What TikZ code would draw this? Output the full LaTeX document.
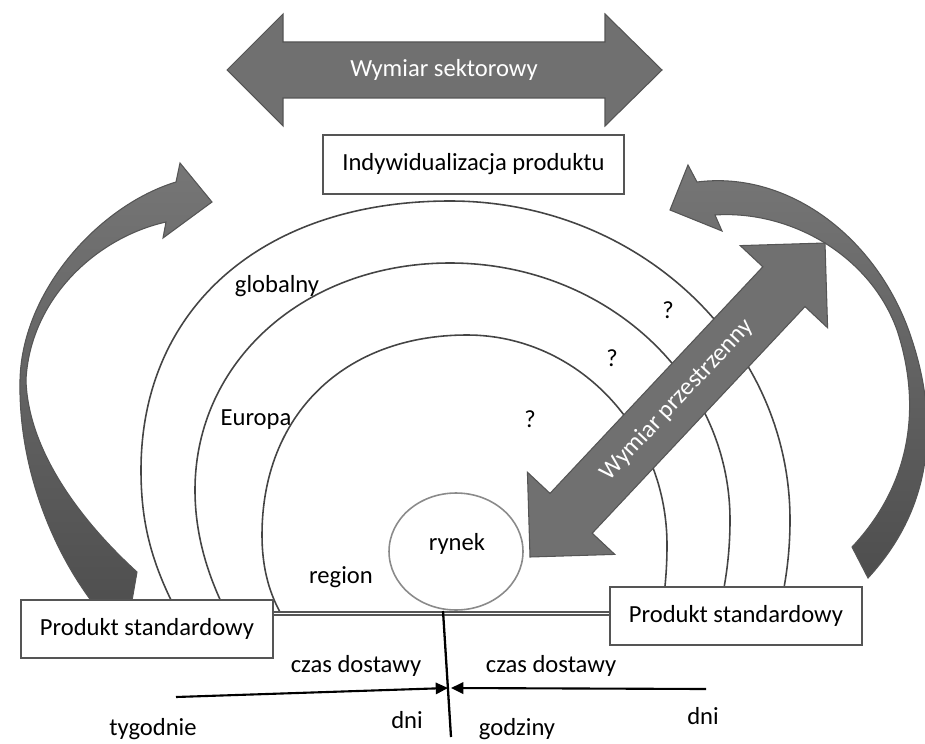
\documentclass[tikz,border=0pt]{standalone}
\usepackage{fontspec}
\setmainfont{Carlito}
\usetikzlibrary{arrows.meta,shapes.geometric}
\definecolor{arrowfill}{HTML}{707070}
\definecolor{arrowedge}{HTML}{555555}
\definecolor{arcline}{HTML}{444444}
\definecolor{boxedge}{HTML}{555555}
\definecolor{ringline}{HTML}{8A8A8A}
\definecolor{ribbonlight}{HTML}{767676}
\definecolor{ribbondark}{HTML}{4E4E4E}

\begin{document}
\begin{tikzpicture}[x=0.02cm, y=-0.02cm,
  every node/.style={font=\fontsize{14}{17}\selectfont},
  zone/.style={draw=arcline, line width=0.9pt},
  block/.style={draw=arrowedge, line width=0.6pt, fill=arrowfill},
  ribbon/.style={draw=arrowedge, line width=0.6pt, top color=ribbonlight, bottom color=ribbondark},
  whitetext/.style={text=white, inner sep=0pt},
  panel/.style={draw=boxedge, line width=0.7pt, fill=white, inner sep=0pt},
  tag/.style={anchor=base, inner sep=0pt},
  timeline/.style={line width=1.2pt, -{Triangle[length=7pt,width=6.5pt]}},
]
\useasboundingbox (0,0) rectangle (925,743);

% market zones: region (inner), Europa (middle), globalny (outer)
\draw[zone] (280,612) .. controls (268,590) and (262,565) .. (262,535)
  .. controls (262,415) and (344,335) .. (467,335)
  .. controls (577,335) and (667,429) .. (667,545)
  .. controls (667,575) and (664,595) .. (662,612);
\draw[zone] (226,612) .. controls (205,570) and (195,530) .. (195,490)
  .. controls (195,361) and (305,263) .. (450,263)
  .. controls (605,263) and (730,378) .. (730,520)
  .. controls (730,560) and (724,590) .. (719,612);
\draw[zone] (177,612) .. controls (150,560) and (141,520) .. (141,470)
  .. controls (141,308) and (263,201) .. (450,201)
  .. controls (638,201) and (790,344) .. (790,520)
  .. controls (790,560) and (784,590) .. (779,612);

% curved arrows on both sides
\draw[ribbon] (212,202) -- (180,163) -- (176,182)
  .. controls (100,205) and (22,290) .. (20,380)
  .. controls (18,470) and (55,560) .. (105,618)
  -- (129,618) -- (137,572)
  .. controls (80,520) and (28,450) .. (26,380)
  .. controls (30,300) and (95,238) .. (166,222)
  -- (163,238) -- cycle;
\draw[ribbon] (670,210) -- (688,165) -- (697,182)
  .. controls (790,170) and (880,240) .. (912,340)
  .. controls (935,410) and (940,500) .. (868,578)
  -- (852,547)
  .. controls (915,480) and (920,400) .. (897,330)
  .. controls (870,255) and (790,210) .. (715,215)
  -- (722,231) -- cycle;

% product boxes and the base line between them
\node[panel, minimum width=5.04cm, minimum height=1.16cm] (lbox) at (147,629) {Produkt standardowy};
\node[panel, minimum width=5.04cm, minimum height=1.16cm] (rbox) at (736,616) {Produkt standardowy};
\coordinate (base) at (456,613.5);
\draw[draw=boxedge, line width=0.6pt, double=white, double distance=1.1pt]
  (base -| lbox.east) -- (base -| rbox.west);

% market
\node[ellipse, draw=ringline, line width=0.9pt, minimum width=2.68cm,
      minimum height=2.34cm, inner sep=0pt] (rynek) at (456,551.5) {};
\node[tag] (rynektxt) at (457,550) {rynek};

% spatial dimension
\draw[block] (530,557) -- (527.4,472.2) -- (550.0,493.4) -- (762.8,266.8)
  -- (740.2,245.6) -- (825,243) -- (827.6,327.8) -- (805.0,306.6)
  -- (592.2,533.2) -- (614.8,554.4) -- cycle;
\node[whitetext, rotate=46.8] (spatial) at (677,400) {Wymiar przestrzenny};

% sector dimension
\draw[block] (227,70) -- (283,14) -- (283,42) -- (605,42) -- (605,14) -- (662,70)
  -- (605,126) -- (605,98) -- (283,98) -- (283,126) -- cycle;
\node[whitetext] (sector) at (444,70) {Wymiar sektorowy};

\node[panel, minimum width=6.02cm, minimum height=1.18cm] (indiv) at (473.5,164.5) {Indywidualizacja produktu};

% zone labels
\node[tag] (globalny) at (277,292) {globalny};
\node[tag] (europa) at (256,425) {Europa};
\node[tag] (region) at (341,583) {region};
\node[tag] (q1) at (668,318) {?};
\node[tag] (q2) at (612,366) {?};
\node[tag] (q3) at (530,427) {?};

% delivery time axis
\coordinate (vtop) at (443,611);
\coordinate (vbot) at (451,737);
\draw[line width=1.3pt] (vtop) -- (vbot);
\coordinate (lstart) at (176,697);
\coordinate (lend) at (448,688);
\coordinate (rstart) at (706,689);
\coordinate (rend) at (451,688);
\draw[timeline] (lstart) -- (lend);
\draw[timeline] (rstart) -- (rend);

\node[tag] (czasl) at (356,672) {czas dostawy};
\node[tag] (czasr) at (551,672) {czas dostawy};
\node[tag] (tyg) at (153,735) {tygodnie};
\node[tag] (dnil) at (407,728) {dni};
\node[tag] (godz) at (517,735) {godziny};
\node[tag] (dnir) at (703,724) {dni};
\end{tikzpicture}
\end{document}
